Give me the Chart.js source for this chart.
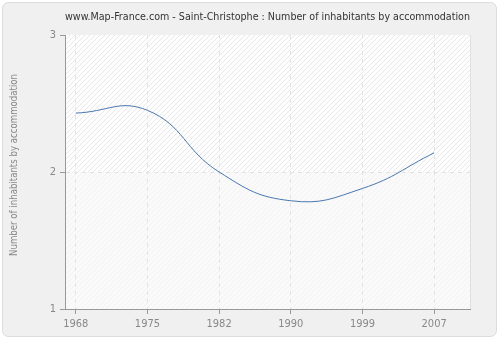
<!DOCTYPE html>
<html>
<head>
<meta charset="utf-8">
<script src="https://cdn.jsdelivr.net/npm/chart.js@4.4.0/dist/chart.umd.min.js"></script>
<style>
    html, body { margin: 0; padding: 0; background: #fff; }
    #wrap { width: 500px; height: 340px; }
</style>
</head>
<body>
<div id="wrap"><canvas id="chart" width="500" height="340"></canvas></div>
<script>
// data
const years = ['1968', '1975', '1982', '1990', '1999', '2007'];
const inhabitants = [2.43, 2.45, 2.0, 1.79, 1.88, 2.14];
const yTicks = [1, 2, 3];

const titleText = 'www.Map-France.com - Saint-Christophe : Number of inhabitants by accommodation';
const yTitle = 'Number of inhabitants by accommodation';
const fontFam = '"DejaVu Sans Condensed", "DejaVu Sans", Verdana, sans-serif';

// hatch pattern for the plot background
function makeHatch(bg, line) {
    const c = document.createElement('canvas');
    c.width = 5; c.height = 5;
    const g = c.getContext('2d');
    g.fillStyle = bg;
    g.fillRect(0, 0, 5, 5);
    g.strokeStyle = line;
    g.lineWidth = 1;
    g.beginPath();
    g.moveTo(0, 5); g.lineTo(5, 0);
    g.moveTo(-2.5, 2.5); g.lineTo(2.5, -2.5);
    g.moveTo(2.5, 7.5); g.lineTo(7.5, 2.5);
    g.stroke();
    return c;
}

// draw text squeezed to a given width if needed
function fitText(ctx, txt, x, y, maxW) {
    const w = ctx.measureText(txt).width;
    ctx.save();
    ctx.translate(x, y);
    if (w > maxW) ctx.scale(maxW / w, 1);
    ctx.fillText(txt, 0, 0);
    ctx.restore();
}

const backdrop = {
    id: 'backdrop',
    beforeDraw(chart) {
        const ctx = chart.ctx;
        const a = chart.chartArea;
        const y = chart.scales.y;
        ctx.save();
        // outer panel
        ctx.fillStyle = '#fff';
        ctx.fillRect(0, 0, chart.width, chart.height);
        ctx.beginPath();
        ctx.roundRect(2.5, 2.5, 494, 334, 6);
        ctx.fillStyle = '#f0f0f0';
        ctx.fill();
        ctx.strokeStyle = '#dcdcdc';
        ctx.lineWidth = 1;
        ctx.stroke();

        // plot area bands
        const mid = y.getPixelForValue(2);
        ctx.fillStyle = ctx.createPattern(makeHatch('#fefefe', '#e8e8e8'), 'repeat');
        ctx.fillRect(a.left, a.top, a.right - a.left, mid - a.top);
        ctx.fillStyle = ctx.createPattern(makeHatch('#fafafa', '#f2f2f2'), 'repeat');
        ctx.fillRect(a.left, mid, a.right - a.left, a.bottom - mid);

        // right edge of plot
        ctx.strokeStyle = '#e0e0e0';
        ctx.beginPath();
        ctx.moveTo(a.right + 0.5, a.top);
        ctx.lineTo(a.right + 0.5, a.bottom);
        ctx.stroke();

        // title
        ctx.fillStyle = '#333';
        ctx.font = '11px ' + fontFam;
        ctx.textAlign = 'center';
        ctx.textBaseline = 'middle';
        fitText(ctx, titleText, (a.left + a.right) / 2, 17, 405);

        // y axis title
        ctx.fillStyle = '#888';
        ctx.font = '11px ' + fontFam;
        ctx.translate(14, 165);
        ctx.rotate(-Math.PI / 2);
        fitText(ctx, yTitle, 0, 0, 182);
        ctx.restore();
    }
};

const points = years.map((yr, i) => ({ x: i, y: inhabitants[i] }));

new Chart(document.getElementById('chart'), {
    type: 'line',
    data: {
        datasets: [{
            data: points,
            borderColor: '#4a77b0',
            borderWidth: 1,
            pointRadius: 0,
            tension: 0.45,
            fill: false
        }]
    },
    options: {
        responsive: false,
        animation: false,
        layout: { padding: { left: 0, top: 35, right: 30, bottom: 0 } },
        plugins: {
            legend: { display: false },
            tooltip: { enabled: false }
        },
        scales: {
            x: {
                type: 'linear',
                min: -0.15,
                max: 5.5,
                afterBuildTicks: (scale) => {
                    scale.ticks = years.map((yr, i) => ({ value: i }));
                },
                afterFit: (scale) => { scale.height = 31; },
                ticks: {
                    color: '#888',
                    font: { family: fontFam, size: 11 },
                    padding: 4,
                    callback: (v) => years[v]
                },
                grid: {
                    color: '#e3e3e3',
                    tickColor: '#999',
                    tickLength: 5
                },
                border: { color: '#999', dash: [4, 4] }
            },
            y: {
                min: 1,
                max: 3,
                afterBuildTicks: (scale) => {
                    scale.ticks = yTicks.map(v => ({ value: v }));
                },
                afterFit: (scale) => { scale.width = 65; },
                ticks: {
                    color: '#888',
                    font: { family: fontFam, size: 11 },
                    padding: 4
                },
                grid: {
                    color: (c) => c.tick && c.tick.value === 2 ? '#e3e3e3' : 'rgba(0,0,0,0)',
                    tickColor: '#999',
                    tickLength: 5
                },
                border: { color: '#999', dash: [4, 4] }
            }
        }
    },
    plugins: [backdrop]
});
</script>
</body>
</html>
